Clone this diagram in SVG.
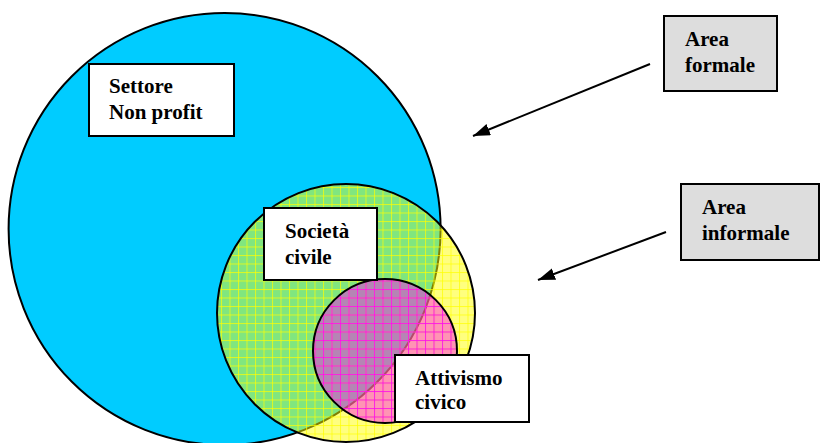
<svg xmlns="http://www.w3.org/2000/svg" width="820" height="443" viewBox="0 0 820 443">
  <defs>
    <style>
      .box { fill: #FFFFFF; stroke: #000000; stroke-width: 2; }
      .gbox { fill: #DDDDDD; stroke: #000000; stroke-width: 2; }
      .lbl { font-family: "Liberation Serif", "Times New Roman", serif; font-weight: bold; font-size: 21px; fill: #000000; }
      .ring { stroke: #000000; stroke-width: 2; }
      .conn { stroke: #000000; stroke-width: 2; fill: none; }
    </style>
    <pattern id="gridY" patternUnits="userSpaceOnUse" width="8.5" height="8.5">
      <rect x="0" y="0" width="1" height="8.5" fill="#FFFF00" fill-opacity="0.7"/>
      <rect x="0" y="0" width="8.5" height="1" fill="#FFFF00" fill-opacity="0.7"/>
    </pattern>
    <pattern id="gridM" patternUnits="userSpaceOnUse" width="8.5" height="8.5">
      <rect x="0" y="0" width="1" height="8.5" fill="#FF00FF" fill-opacity="0.75"/>
      <rect x="0" y="0" width="8.5" height="1" fill="#FF00FF" fill-opacity="0.75"/>
    </pattern>
    <marker id="arrow" markerUnits="userSpaceOnUse" markerWidth="18" markerHeight="14" refX="17" refY="6" orient="auto">
      <path d="M0,0 L17,6 L0,12 Z" fill="#000000"/>
    </marker>
  </defs>

  <g id="settore-circle">
    <circle class="ring" cx="224.6" cy="229" r="216" fill="#00CCFF"/>
  </g>
  <g id="societa-circle">
    <circle cx="346" cy="313" r="129" fill="#FFFF00" fill-opacity="0.5"/>
    <circle cx="346" cy="313" r="129" fill="url(#gridY)"/>
    <circle class="ring" cx="346" cy="313" r="129" fill="none"/>
  </g>
  <g id="attivismo-circle">
    <circle cx="385" cy="351" r="72" fill="#FF00FF" fill-opacity="0.42"/>
    <circle cx="385" cy="351" r="72" fill="url(#gridM)"/>
    <circle class="ring" cx="385" cy="351" r="72" fill="none"/>
  </g>

  <g id="settore">
    <rect class="box" x="89" y="64" width="145" height="72"/>
    <text class="lbl" x="109" y="93">Settore</text>
    <text class="lbl" x="109" y="119">Non profit</text>
  </g>
  <g id="societa">
    <rect class="box" x="264" y="208" width="113" height="72"/>
    <text class="lbl" x="285" y="238">Società</text>
    <text class="lbl" x="285" y="264">civile</text>
  </g>
  <g id="attivismo">
    <rect class="box" x="395" y="355" width="134" height="67"/>
    <text class="lbl" x="415" y="385">Attivismo</text>
    <text class="lbl" x="415" y="409">civico</text>
  </g>
  <g id="area-formale">
    <rect class="gbox" x="664" y="16" width="113" height="75"/>
    <text class="lbl" x="685" y="46">Area</text>
    <text class="lbl" x="685" y="72">formale</text>
  </g>
  <g id="area-informale">
    <rect class="gbox" x="681" y="184" width="138" height="76"/>
    <text class="lbl" x="702" y="214">Area</text>
    <text class="lbl" x="702" y="240">informale</text>
  </g>

  <g id="connectors">
    <line class="conn" x1="650" y1="64" x2="473" y2="136" marker-end="url(#arrow)"/>
    <line class="conn" x1="666" y1="232" x2="538" y2="280" marker-end="url(#arrow)"/>
  </g>
</svg>
